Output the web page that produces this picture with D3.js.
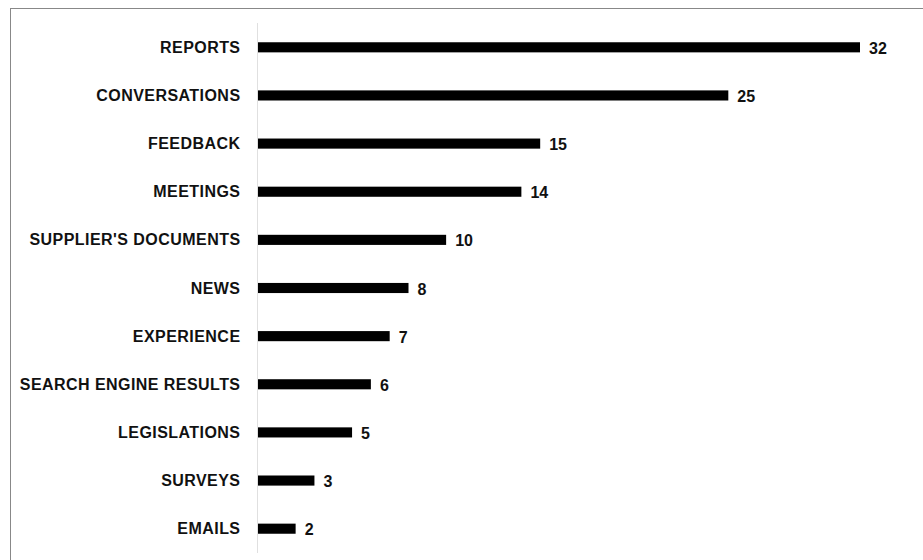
<!DOCTYPE html>
<html lang="en">
<head>
<meta charset="UTF-8">
<title>Sources</title>
<script src="https://d3js.org/d3.v7.min.js"></script>
<style>
    body { margin: 0; background: #fff; }
    .label { font-family: "Liberation Sans", Arial, sans-serif; font-weight: bold; font-size: 16px; fill: #111; }
    .cat { letter-spacing: 0.45px; }
</style>
</head>
<body>
<div id="chart"></div>
<script>
const categories = ["REPORTS", "CONVERSATIONS", "FEEDBACK", "MEETINGS", "SUPPLIER'S DOCUMENTS",
    "NEWS", "EXPERIENCE", "SEARCH ENGINE RESULTS", "LEGISLATIONS", "SURVEYS", "EMAILS"];
const values = [32, 25, 15, 14, 10, 8, 7, 6, 5, 3, 2];

const W = 923, H = 560;
const margin = { top: 23, left: 258, right: 63, bottom: 7 };

const svg = d3.select("#chart").append("svg")
    .attr("width", W).attr("height", H);

// outer frame
svg.append("rect")
    .attr("x", 10.5).attr("y", 8.5)
    .attr("width", W).attr("height", H)
    .attr("fill", "none").attr("stroke", "#888").attr("stroke-width", 1);

const x = d3.scaleLinear().domain([0, 32]).range([margin.left, W - margin.right]);
const y = d3.scaleBand().domain(categories)
    .range([margin.top, H - margin.bottom]).paddingInner(0.79).paddingOuter(0.4);

// axis line
svg.append("line")
    .attr("x1", margin.left - 0.5).attr("x2", margin.left - 0.5)
    .attr("y1", margin.top).attr("y2", H - margin.bottom)
    .attr("stroke", "#e0e0e0");

const data = categories.map((c, i) => ({ c, v: values[i] }));

svg.selectAll(".bar").data(data).enter().append("rect")
    .attr("class", "bar")
    .attr("x", x(0))
    .attr("y", d => y(d.c))
    .attr("width", d => x(d.v) - x(0))
    .attr("height", y.bandwidth())
    .attr("fill", "#000");

svg.selectAll(".cat").data(data).enter().append("text")
    .attr("class", "label cat")
    .attr("x", margin.left - 17.5)
    .attr("y", d => y(d.c) + y.bandwidth() / 2)
    .attr("dy", "0.35em")
    .attr("text-anchor", "end")
    .text(d => d.c);

svg.selectAll(".val").data(data).enter().append("text")
    .attr("class", "label")
    .attr("x", d => x(d.v) + 9)
    .attr("y", d => y(d.c) + y.bandwidth() / 2 + 1)
    .attr("dy", "0.35em")
    .text(d => d.v);
</script>
</body>
</html>
